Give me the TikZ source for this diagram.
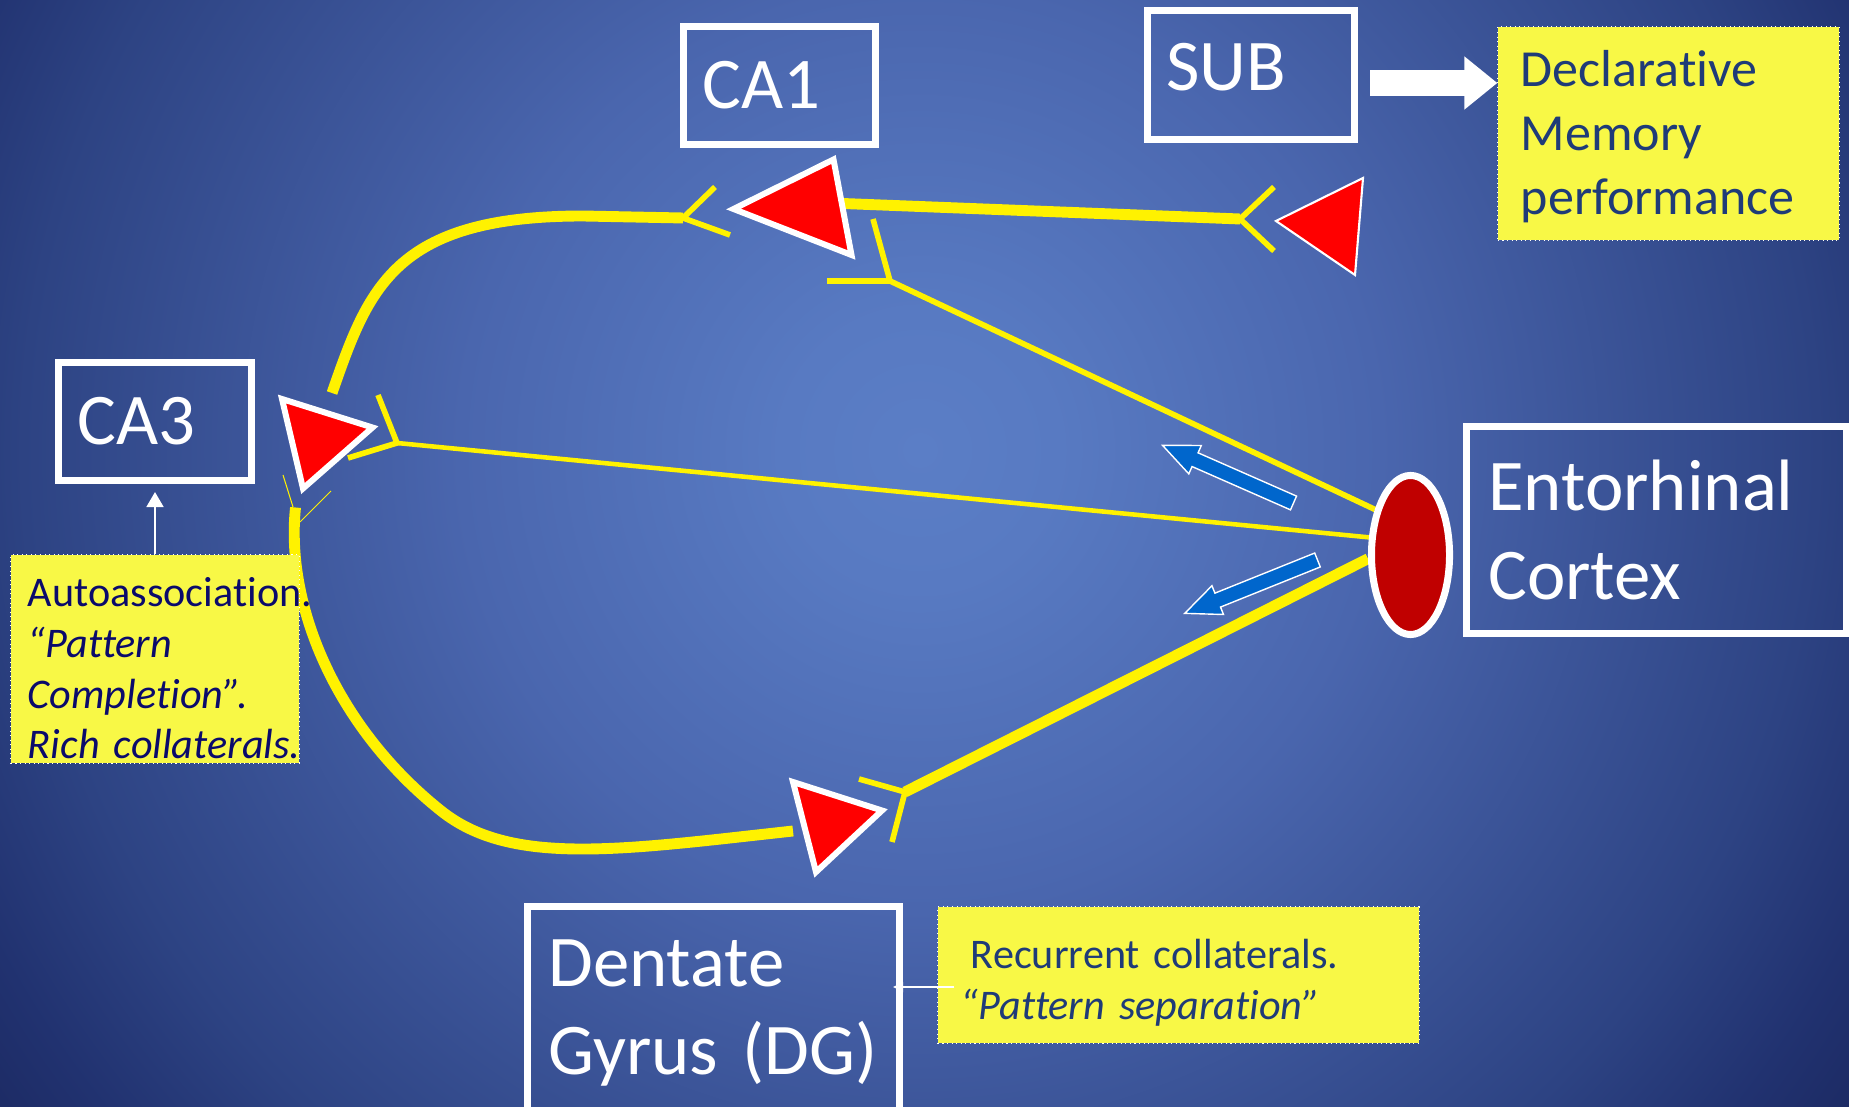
\documentclass[tikz,border=0pt]{standalone}
\usepackage{fontspec}
\setmainfont{Carlito}[Ligatures={NoCommon}]
\usetikzlibrary{positioning,arrows.meta,shapes.geometric}

\definecolor{bgcentre}{HTML}{5B7EC6}
\definecolor{bginner}{HTML}{587AC2}
\definecolor{bgmiddle}{HTML}{4A66AE}
\definecolor{bgouter}{HTML}{2D4383}
\definecolor{bgedge}{HTML}{213270}
\definecolor{bgcorner}{HTML}{1C2A63}
\definecolor{noteyellow}{HTML}{F8F846}
\definecolor{noteink}{HTML}{1F3B78}
\definecolor{autoink}{HTML}{0B0B6B}
\definecolor{ecred}{HTML}{C00000}
\definecolor{signalblue}{HTML}{0066CC}

\pgfdeclareradialshading{backdrop}{\pgfpoint{0bp}{0bp}}{%
  color(0bp)=(bgcentre); color(3bp)=(bginner); color(10bp)=(bgmiddle);
  color(19.5bp)=(bgouter); color(22.8bp)=(bgedge); color(25bp)=(bgcorner);
  color(50bp)=(bgcorner)}

\pgfdeclarelayer{back}
\pgfsetlayers{back,main}

\tikzset{
  region/.style={draw=white, line width=2pt, text=white,
    font=\fontsize{20.7}{25.3}\selectfont, align=left, inner ysep=0pt},
  note/.style={fill=noteyellow, draw=white, densely dotted, line width=0.3pt,
    text=noteink, align=left, inner ysep=0pt},
  axon/.style={yellow, line width=3.1pt},
  fibre/.style={yellow, line width=1.3pt},
  branch/.style={yellow, line width=1.6pt},
  whisker/.style={yellow, line width=0.3pt},
  pyramid/.style={fill=red, draw=white, line width=1.7pt, line join=miter},
  signal/.style={fill=signalblue, draw=white, line width=0.4pt, line join=miter},
  pointer/.style={white, line width=0.5pt, -{Triangle[length=0.15cm,width=0.17cm]}}
}

\begin{document}
\begin{tikzpicture}[x=0.01cm,y=-0.01cm]
\useasboundingbox (0,0) rectangle (1849,1107);
\begin{pgfonlayer}{back}
\clip (0,0) rectangle (1849,1107);
\shade[shading=backdrop] (-230,-700) rectangle (2070,1600);
\end{pgfonlayer}

% regions
\node[region, minimum width=1.92cm, minimum height=1.18cm, text width=1.54cm, inner xsep=0.19cm] (ca1) at (779.5,85.5) {CA1};
\node[region, minimum width=2.07cm, minimum height=1.29cm, text width=1.69cm, inner xsep=0.19cm] (sub) at (1251,75) {SUB\rule[-0.17cm]{0pt}{0.17cm}};
\node[region, minimum width=1.93cm, minimum height=1.18cm, text width=1.55cm, inner xsep=0.19cm] (ca3) at (155,421.5) {CA3};
\node[region, minimum width=3.795cm, minimum height=2.07cm, text width=3.355cm, inner xsep=0.22cm] (ec) at (1656.25,530) {Entorhinal\\Cortex};
\node[region, minimum width=3.72cm, minimum height=2.13cm, text width=3.30cm, inner xsep=0.21cm] (dg) at (713.5,1013) {Dentate\\Gyrus (DG)};

% entorhinal cell
\node[ellipse, draw=white, fill=ecred, line width=2pt, minimum width=0.78cm, minimum height=1.59cm, inner sep=0pt] (ecc) at (1410.5,555) {};

% cells
\filldraw[pyramid] (733.5,209) -- (833.5,159.5) -- (851.5,255) -- cycle;
\filldraw[pyramid, line width=0.6pt] (1276,221) -- (1363,178) -- (1355,275) -- cycle;
\filldraw[pyramid] (282,399) -- (372.5,427.5) -- (303,488.5) -- cycle;
\filldraw[pyramid] (793,782) -- (882,810.5) -- (816,872) -- cycle;

% fibres
\coordinate (ca1 axon) at (830,203);
\coordinate (sub fork) at (1240,219);
\coordinate (ca3 axon) at (332,393);
\coordinate (sc fork) at (683,218);
\coordinate (pp1 fork) at (890,281);
\coordinate (pp3 fork) at (397,443);
\coordinate (pp0 fork) at (905,792);
\coordinate (mf top) at (295.5,507.5);
\coordinate (mf end) at (793,831);

\begin{pgfonlayer}{back}
% CA1 -> SUB
\draw[axon] (ca1 axon) -- (sub fork);
\draw[branch] (1274,187) -- (sub fork) -- (1274,251);
% CA3 -> CA1
\draw[axon] (ca3 axon) .. controls (368.4,289) and (393,216) .. (583,216) -- (sc fork);
\draw[branch] (715,187) -- (sc fork) -- (730,235);
% EC -> CA1
\draw[fibre, line width=1.6pt] (pp1 fork) -- (ecc.128);
\draw[branch] (827,281) -- (pp1 fork) -- (873,219);
% EC -> CA3
\draw[fibre] (pp3 fork) -- (ecc.157);
\draw[branch] (378,395) -- (pp3 fork) -- (348,458);
% EC -> DG
\draw[axon] (pp0 fork) -- (ecc.185);
\draw[branch] (859,779) -- (pp0 fork) -- (892,842);
% DG -> CA3
\draw[axon] (mf end) .. controls (620,850) and (510,867) .. (440,810)
  .. controls (340,730) and (285,610) .. (mf top);
\draw[whisker] (283,475) -- (293,507);
\draw[whisker] (300,522) -- (331,491);
\end{pgfonlayer}

% notes
\node[note, minimum width=3.41cm, minimum height=2.13cm, text width=2.95cm, inner xsep=0.23cm,
  font=\fontsize{14.8}{18.2}\selectfont] (decl) at (1668.5,133.5)
  {\rule{0pt}{0.43cm}Declarative\\Memory\\performance};
\node[note, text=autoink, minimum width=2.88cm, minimum height=2.08cm, text width=2.54cm, inner xsep=0.17cm,
  font=\fontsize{12}{14.4}\selectfont] (auto) at (155,659)
  {\mbox{\rule{0pt}{0.48cm}Autoassociation.}\\\mbox{\itshape “Pattern}\\\mbox{\itshape Completion”.}\\\mbox{\itshape Rich collaterals.}};
\node[note, minimum width=4.81cm, minimum height=1.36cm, text width=4.35cm, inner xsep=0.23cm,
  font=\fontsize{12}{14.5}\selectfont] (rec) at (1178.5,975)
  {\hspace*{0.1cm}\rule{0pt}{0.45cm}Recurrent collaterals.\\{\itshape “Pattern separation”}};

% pointers
\draw[pointer] (auto.north) -- ([yshift=-0.08cm]ca3.south);
\coordinate (rec tail) at ([xshift=0.17cm,yshift=-0.12cm]rec.west);
\coordinate (dg rim) at ([xshift=-0.1cm]dg.east);
\draw[pointer, -{Triangle[length=0.1cm,width=0.1cm]}] (rec tail) -- (dg rim |- rec tail);
\coordinate (sub out) at ([xshift=0.12cm,yshift=-0.08cm]sub.east);
\draw[white, line width=0.26cm, -{Triangle[length=0.33cm,width=0.51cm]}] (sub out) -- (decl.west |- sub out);

% signal flow
\begin{scope}[shift={(1293.5,503)}, rotate=156.25]
\filldraw[signal] (0cm,0.075cm) -- (1.075cm,0.075cm) -- (1.075cm,0.155cm) -- (1.43cm,0cm)
  -- (1.075cm,-0.155cm) -- (1.075cm,-0.075cm) -- (0cm,-0.075cm) -- cycle;
\end{scope}
\begin{scope}[shift={(1317.5,560)}, rotate=201.9]
\filldraw[signal] (0cm,0.075cm) -- (1.075cm,0.075cm) -- (1.075cm,0.155cm) -- (1.43cm,0cm)
  -- (1.075cm,-0.155cm) -- (1.075cm,-0.075cm) -- (0cm,-0.075cm) -- cycle;
\end{scope}
\end{tikzpicture}
\end{document}
